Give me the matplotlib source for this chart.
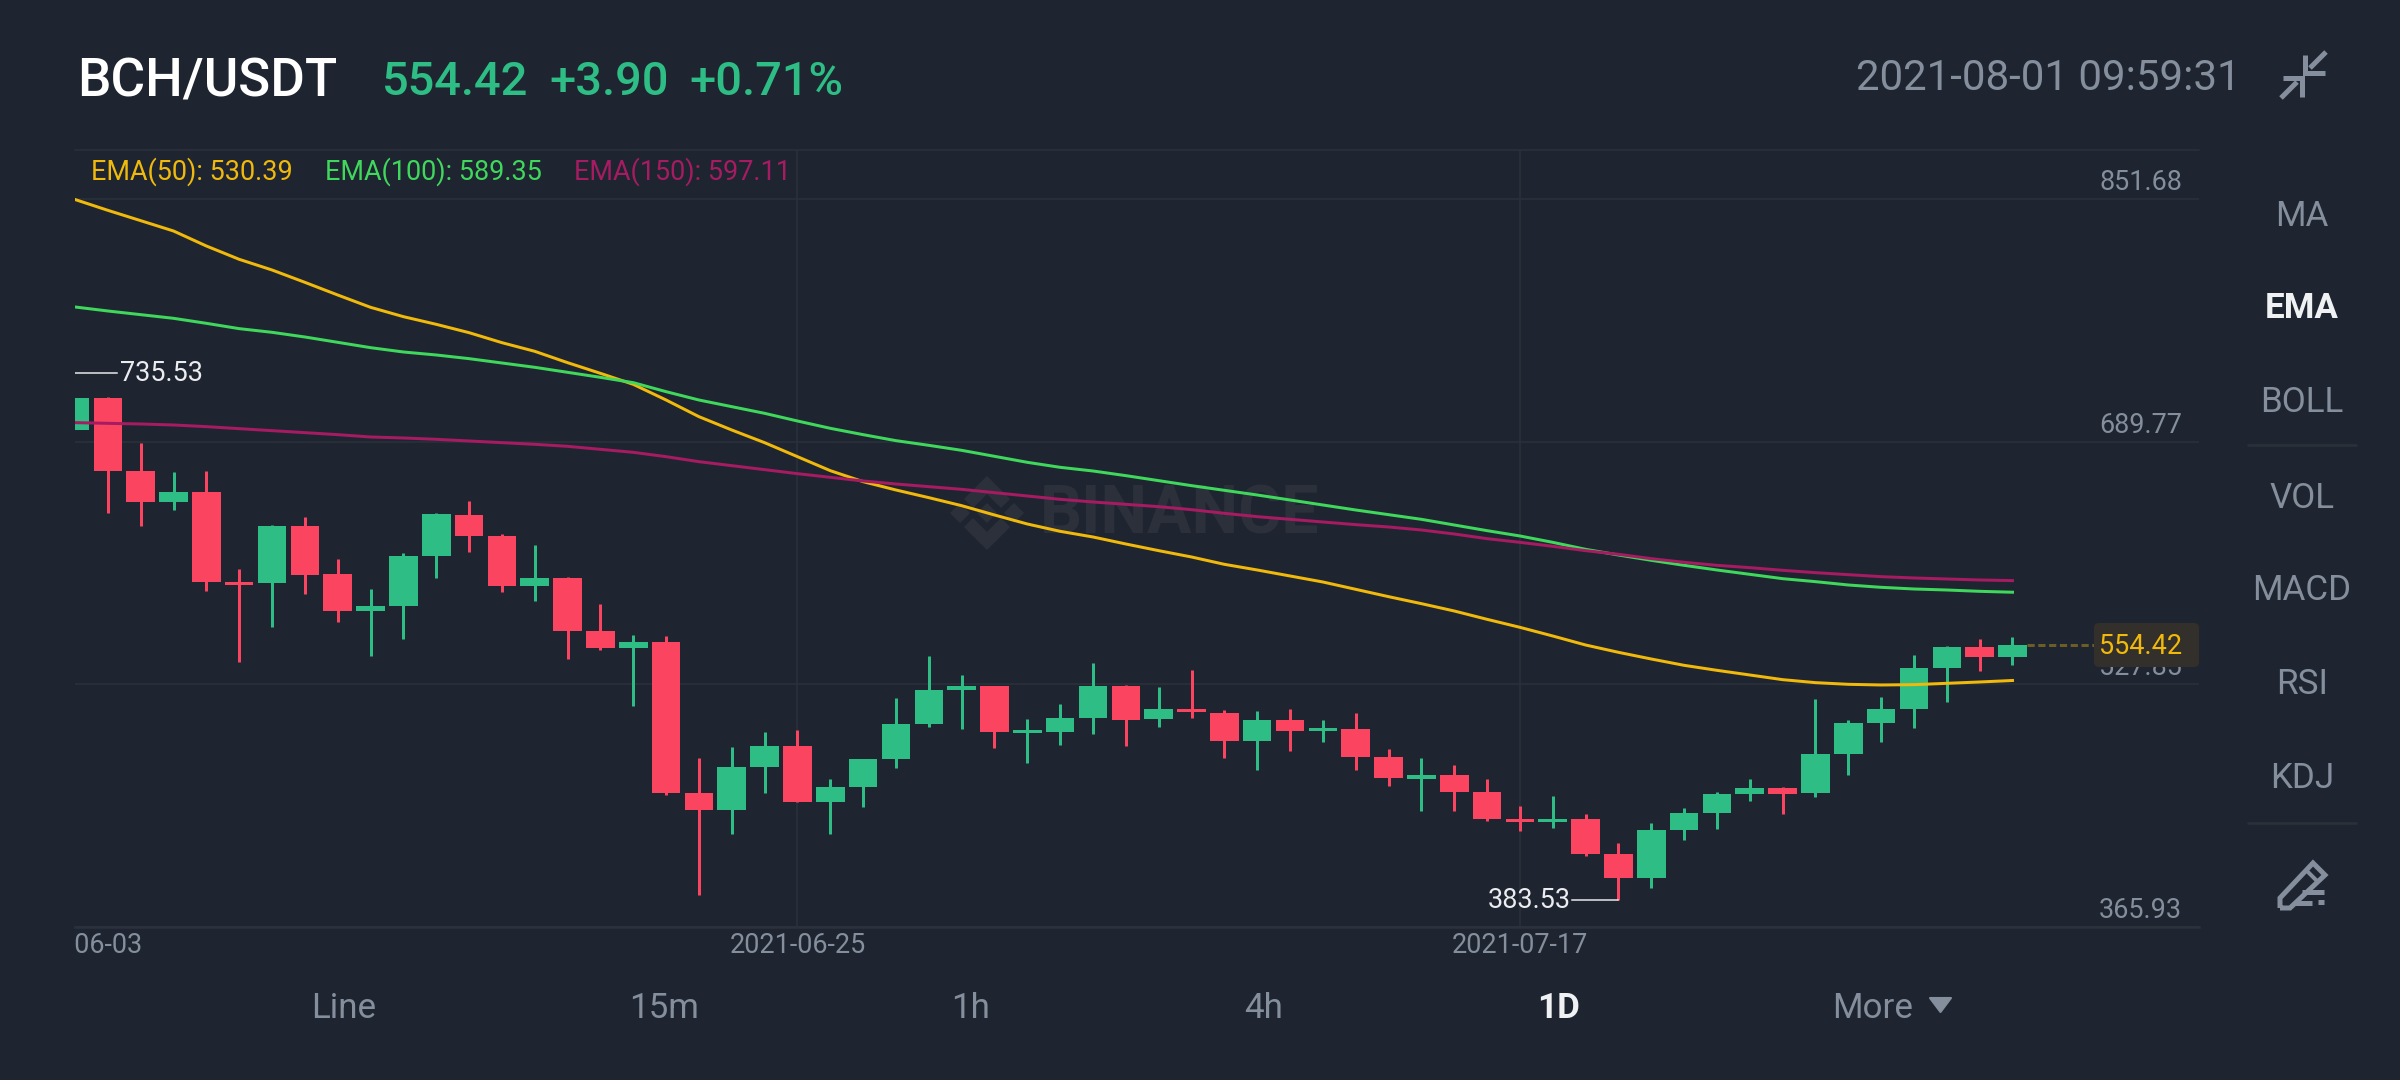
"""
BCH/USDT daily candles with EMA overlays, landscape trading screen.
"""
import matplotlib
matplotlib.use('Agg')
import matplotlib.pyplot as plt
import numpy as np
from matplotlib.lines import Line2D
from matplotlib.patches import FancyBboxPatch, Polygon
from matplotlib.transforms import Affine2D, Bbox

plt.rcParams['font.family'] = ['Roboto', 'DejaVu Sans']

# Candles, oldest first (the first one is cut by the left edge)
opens = [697.71, 719.18, 670.52, 649.29, 655.97, 596.33, 595.38, 633.78, 601.34, 577.01,
         580.11, 613.51, 641.18, 626.86, 593.47, 598.95, 563.17, 552.20, 555.78, 455.11,
         444.14, 472.85, 486.88, 449.25, 459.49, 477.75, 501.58, 524.06, 526.74, 495.56,
         495.79, 505.14, 526.74, 504.47, 511.37, 508.92, 490.22, 503.80, 496.90, 498.01,
         479.31, 464.84, 467.27, 455.69, 437.88, 436.10, 437.88, 414.72, 398.47, 430.75,
         442.11, 454.80, 458.36, 455.02, 481.30, 501.78, 511.58, 538.96, 552.55, 545.87]
closes = [719.18, 670.52, 649.29, 655.97, 596.33, 593.94, 633.78, 601.10, 576.77, 579.87,
          613.27, 641.42, 627.10, 593.47, 598.95, 563.17, 552.20, 555.78, 455.35, 444.14,
          472.52, 486.88, 449.25, 459.49, 477.75, 501.58, 523.84, 526.74, 495.79, 497.57,
          505.14, 526.51, 504.25, 511.37, 509.37, 490.22, 503.80, 496.90, 498.68, 479.53,
          465.06, 467.07, 455.91, 437.88, 436.10, 438.10, 414.72, 398.47, 430.53, 441.89,
          454.58, 458.36, 454.80, 481.07, 501.78, 511.35, 538.74, 552.55, 546.09, 554.42]
highs = [735.53, 719.90, 688.89, 669.80, 670.52, 604.92, 634.50, 639.27, 611.60, 591.80,
         615.41, 642.13, 650.24, 628.06, 620.90, 599.43, 581.54, 560.79, 559.83, 478.73,
         485.64, 495.79, 497.35, 464.39, 478.20, 518.72, 546.77, 534.31, 526.74, 504.69,
         514.71, 542.10, 527.40, 525.85, 537.65, 510.70, 510.26, 511.37, 503.80, 508.92,
         484.43, 478.42, 473.95, 464.60, 446.56, 453.24, 441.22, 422.07, 435.43, 445.23,
         455.91, 464.60, 459.48, 517.81, 504.01, 519.37, 547.42, 553.44, 557.89, 559.67]
lows = [697.71, 642.37, 633.78, 644.28, 590.37, 542.42, 566.03, 587.98, 569.14, 546.71,
        558.40, 598.95, 616.13, 589.41, 583.45, 544.56, 551.01, 513.08, 453.91, 387.36,
        427.91, 455.04, 449.25, 428.10, 446.13, 472.18, 499.57, 498.01, 485.32, 475.53,
        487.55, 494.90, 486.66, 499.35, 505.36, 478.64, 470.85, 483.32, 489.11, 470.85,
        459.72, 443.24, 443.44, 436.77, 429.86, 431.64, 413.16, 383.53, 391.79, 424.08,
        431.20, 449.90, 441.00, 452.57, 467.49, 489.09, 498.44, 516.25, 536.74, 540.97]

ema50 = [851.68, 844.45, 837.55, 830.64, 820.62, 811.72, 804.59, 796.35, 787.89, 779.66,
         773.42, 768.30, 762.73, 756.05, 750.27, 742.69, 735.56, 728.22, 717.75, 706.62,
         697.71, 689.25, 679.90, 670.55, 663.20, 657.64, 652.52, 647.17, 640.94, 634.93,
         630.03, 626.25, 621.57, 617.12, 612.89, 607.99, 604.21, 600.20, 596.19, 591.29,
         586.39, 581.72, 576.82, 571.25, 565.91, 560.12, 554.10, 549.21, 544.75, 540.52,
         537.18, 534.07, 530.95, 528.95, 527.83, 527.39, 527.61, 528.50, 529.39, 530.39]
ema100 = [779.88, 777.21, 774.76, 772.31, 768.97, 765.41, 762.96, 759.84, 756.28, 752.71,
          749.82, 747.82, 745.37, 742.47, 739.58, 736.24, 732.89, 729.33, 723.32, 717.75,
          713.30, 708.85, 703.73, 698.83, 694.60, 690.59, 687.47, 684.13, 680.13, 676.12,
          672.78, 670.33, 667.22, 663.88, 660.54, 657.42, 654.30, 650.96, 647.62, 644.28,
          641.17, 638.05, 634.26, 630.48, 626.92, 622.68, 618.01, 614.22, 610.66, 607.32,
          604.20, 601.31, 598.41, 596.41, 594.18, 592.62, 591.51, 590.84, 589.95, 589.35]
ema150 = [702.62, 702.17, 701.73, 701.06, 699.95, 698.61, 697.27, 695.94, 694.60, 693.04,
          692.38, 691.49, 690.37, 689.26, 688.15, 686.81, 684.80, 682.80, 679.90, 676.56,
          673.89, 671.22, 668.55, 666.10, 663.65, 661.64, 659.86, 658.08, 655.85, 653.63,
          651.40, 649.63, 648.07, 646.51, 644.50, 642.06, 639.83, 638.05, 636.27, 634.49,
          632.93, 630.92, 628.25, 625.13, 622.68, 620.01, 617.12, 614.67, 611.77, 609.32,
          607.32, 605.76, 603.98, 602.42, 601.08, 599.75, 598.86, 598.19, 597.52, 597.11]

price_ticks = [851.68, 689.77, 527.85, 365.93]
date_tick_pos = [0, 22, 44]
date_ticks = ['2021-06-03', '2021-06-25', '2021-07-17']
high_mark = (0, 735.53)
low_mark = (47, 383.53)
last_price = 554.42

ema_labels = ['EMA(50): 530.39', 'EMA(100): 589.35', 'EMA(150): 597.11']
side_items = ['MA', 'EMA', 'BOLL', 'VOL', 'MACD', 'RSI', 'KDJ']
tab_items = ['Line', '15m', '1h', '4h', '1D', 'More']

BG = '#1e2530'
GRID = '#2a313b'
MUTED = '#848e9c'
UP = '#2ebd85'
DOWN = '#fb4560'
YEL = '#f0b90b'
GRN = '#3fd85c'
MAG = '#a61b62'
WMARK = '#2c303b'


def px(p):
    # pixels to points at dpi 100
    return p * 72 / 100


fig = plt.figure(figsize=(24, 10.8), dpi=100, facecolor=BG)
# screen coordinates, y pointing down
screen = Affine2D().scale(1, -1).translate(0, 1080)


def stext(x, y, s, size, color, ha='left', va='center', weight='normal', zorder=5):
    return fig.text(x, y, s, transform=screen, fontsize=px(size), color=color, ha=ha, va=va,
                    fontweight=weight, zorder=zorder)


def sline(xs, ys, color=MUTED, lw=5, zorder=5):
    fig.add_artist(Line2D(xs, ys, transform=screen, color=color, lw=px(lw), zorder=zorder,
                          solid_capstyle='butt', solid_joinstyle='miter'))


# Watermark sits under the chart
wm_x, wm_y = 987, 513
wm_shapes = [[(0, -37), (23, -14), (14, -5), (0, -19), (-14, -5), (-23, -14)],
             [(0, 37), (23, 14), (14, 5), (0, 19), (-14, 5), (-23, 14)],
             [(-37, 0), (-27, -10), (-17, 0), (-27, 10)],
             [(37, 0), (27, -10), (17, 0), (27, 10)],
             [(-10, 0), (0, -10), (10, 0), (0, 10)]]
for shape in wm_shapes:
    fig.add_artist(Polygon([(wm_x + a, wm_y + b) for a, b in shape], closed=True, transform=screen,
                           facecolor=WMARK, edgecolor='none', zorder=-2))
stext(1040, 515, 'BINANCE', 66, WMARK, weight='bold', zorder=-2)

# Chart area
ax = fig.add_axes([75 / 2400, 1 - 926.7 / 1080, 2124 / 2400, 776.7 / 1080])
ax.patch.set_visible(False)
ax.set_xlim(0.058, 64.68)
ax.set_ylim(365.93, 884.74)

x = np.arange(len(opens))
opens = np.array(opens)
closes = np.array(closes)
colors = [UP if c >= o else DOWN for o, c in zip(opens, closes)]

# the wick of the first candle falls just outside the left edge
ax.vlines(x[1:], lows[1:], highs[1:], colors=colors[1:], lw=px(3), zorder=3)
ax.bar(x, np.abs(closes - opens), bottom=np.minimum(opens, closes), width=0.87,
       color=colors, linewidth=0, zorder=3)

ax.plot(x, ema50, color=YEL, lw=px(3), zorder=4, solid_joinstyle='round')
ax.plot(x, ema100, color=GRN, lw=px(3), zorder=4, solid_joinstyle='round')
ax.plot(x, ema150, color=MAG, lw=px(3), zorder=4, solid_joinstyle='round')

# Axes furniture
for side in ['left', 'right']:
    ax.spines[side].set_visible(False)
ax.spines['top'].set_color(GRID)
ax.spines['top'].set_linewidth(px(1.5))
ax.spines['bottom'].set_color('#2b323c')
ax.spines['bottom'].set_linewidth(px(2.5))
ax.set_axisbelow(True)
ax.grid(True, color=GRID, lw=px(1.5))

ax.yaxis.tick_right()
ax.set_yticks(price_ticks)
ax.set_yticklabels([f'{p:.2f}' for p in price_ticks])
ax.tick_params(axis='y', length=0, pad=-px(17), labelsize=px(27), labelcolor=MUTED)
for lab in ax.get_yticklabels():
    lab.set_ha('right')
    lab.set_va('bottom')
    lab.set_transform(lab.get_transform() + Affine2D().translate(0, 3))

ax.set_xticks(date_tick_pos)
ax.set_xticklabels(date_ticks)
ax.tick_params(axis='x', length=0, pad=px(5), labelsize=px(27), labelcolor=MUTED)
for lab in ax.get_xticklabels():
    lab.set_clip_box(Bbox([[75, 0], [2400, 1080]]))
    lab.set_clip_on(True)
ax.get_xgridlines()[0].set_visible(False)

# High and low markers
WHITE = '#eaecef'
ax.plot([high_mark[0], high_mark[0] + 1.27], [high_mark[1]] * 2, color=WHITE, lw=px(1.5), zorder=5)
ax.annotate(f'{high_mark[1]:.2f}', xy=(high_mark[0] + 1.27, high_mark[1]), xytext=(px(3), 0),
            textcoords='offset points', color=WHITE, fontsize=px(27), va='center', ha='left')
ax.plot([low_mark[0] - 1.4, low_mark[0]], [low_mark[1]] * 2, color=WHITE, lw=px(1.5), zorder=5)
ax.annotate(f'{low_mark[1]:.2f}', xy=(low_mark[0] - 1.4, low_mark[1]), xytext=(-px(2), 0),
            textcoords='offset points', color=WHITE, fontsize=px(27), va='center', ha='right')

# Last price line and tag
ax.plot([x[-1] + 0.435, 61.5], [last_price, last_price], color='#6b5d25', lw=px(3),
        dashes=(2.4, 1.2), zorder=3)
fig.add_artist(FancyBboxPatch((2098, 627), 97, 36, boxstyle='round,pad=4,rounding_size=5', transform=screen,
                              facecolor='#33302b', edgecolor='none', zorder=5))
stext(2182, 646, f'{last_price:.2f}', 27, YEL, ha='right', zorder=6)

# Header
stext(77, 82, 'BCH/USDT', 53, 'white', weight='medium')
stext(382, 82, '554.42', 47, UP, weight='medium')
stext(549, 82, '+3.90', 47, UP, weight='medium')
stext(689, 82, '+0.71%', 47, UP, weight='medium')
stext(2241, 78, '2021-08-01 09:59:31', 42, MUTED, ha='right')

# EMA legend
for lx, lab, col in zip([91, 325, 574], ema_labels, [YEL, GRN, MAG]):
    stext(lx, 172, lab, 27, col)

# Collapse icon
sline([2326, 2310], [52, 68])
sline([2305, 2305, 2325], [55, 72.7, 72.7])
sline([2281, 2297], [98, 82])
sline([2283, 2302, 2302], [78, 78, 97])

# Side menu
for item, sy in zip(side_items, [216, 309, 402, 499, 591, 685, 779]):
    if item == 'EMA':
        stext(2302, sy, item, 35, '#f0f1f3', ha='center', weight='bold')
    else:
        stext(2302, sy, item, 35, MUTED, ha='center')
sline([2247, 2357], [445, 445], color=GRID, lw=2.5)
sline([2247, 2357], [823, 823], color=GRID, lw=2.5)

# Pencil icon
sline([2280, 2280, 2313, 2325, 2290, 2280], [908, 898, 863, 875, 908, 908], lw=5)
sline([2306, 2318], [870, 882], lw=4)
sline([2302, 2324], [892, 892], lw=5)
sline([2294, 2312], [903, 903], lw=5)
sline([2318, 2324], [902, 902], lw=5)

# Bottom tabs
for item, tx in zip(tab_items, [344, 664, 971, 1264, 1559, 1873]):
    if item == '1D':
        stext(tx, 1009, item, 35, '#f0f1f3', ha='center', weight='bold')
    else:
        stext(tx, 1009, item, 35, MUTED, ha='center')
fig.add_artist(Polygon([(1930, 998), (1951, 998), (1940.5, 1012)], closed=True, transform=screen,
                       facecolor=MUTED, edgecolor=MUTED, lw=1.5, joinstyle='round', zorder=5))

fig.savefig('out.png', dpi=100, facecolor=BG)
